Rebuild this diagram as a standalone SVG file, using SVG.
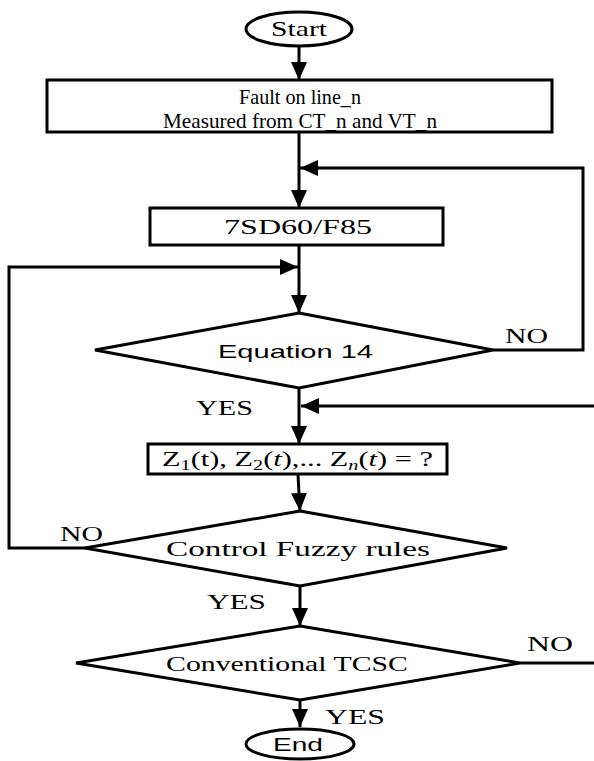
<svg xmlns="http://www.w3.org/2000/svg" width="594" height="761" viewBox="0 0 594 761">
  <style>
    .shape { fill: #fff; stroke: #000; stroke-width: 3; }
    .wire { fill: none; stroke: #000; stroke-width: 3; }
    .serif { font-family: "Liberation Serif", "Times New Roman", serif; font-size: 21px; fill: #000; }
    .sans { font-family: "Liberation Sans", Arial, sans-serif; font-size: 19px; fill: #000; }
  </style>
  <defs>
    <marker id="arrow" markerUnits="userSpaceOnUse" markerWidth="20" markerHeight="20" viewBox="0 0 20 20" refX="18" refY="10" orient="auto">
      <path d="M0,2 L18,10 L0,18 Z" fill="#000"/>
    </marker>
  </defs>
  <rect width="594" height="761" fill="#fff"/>

  <g id="connectors">
    <line class="wire" x1="299" y1="46" x2="299" y2="80" marker-end="url(#arrow)"/>
    <line class="wire" x1="299" y1="132" x2="299" y2="208" marker-end="url(#arrow)"/>
    <polyline class="wire" points="493,350 583,350 583,168 300,168" marker-end="url(#arrow)"/>
    <line class="wire" x1="299" y1="245" x2="299" y2="313" marker-end="url(#arrow)"/>
    <polyline class="wire" points="90,548 9,548 9,267 298,267" marker-end="url(#arrow)"/>
    <line class="wire" x1="299" y1="388" x2="299" y2="444" marker-end="url(#arrow)"/>
    <line class="wire" x1="594" y1="406" x2="301" y2="406" marker-end="url(#arrow)"/>
    <line class="wire" x1="298" y1="475" x2="300" y2="511" marker-end="url(#arrow)"/>
    <line class="wire" x1="300" y1="586" x2="300" y2="626" marker-end="url(#arrow)"/>
    <line class="wire" x1="520" y1="663" x2="594" y2="663"/>
    <line class="wire" x1="300" y1="700" x2="300" y2="727" marker-end="url(#arrow)"/>
    <text class="serif" x="505" y="343" textLength="43" lengthAdjust="spacingAndGlyphs">NO</text>
    <text class="serif" x="196" y="415" textLength="57" lengthAdjust="spacingAndGlyphs">YES</text>
    <text class="serif" x="60" y="541" textLength="43" lengthAdjust="spacingAndGlyphs">NO</text>
    <text class="serif" x="207" y="609" textLength="59" lengthAdjust="spacingAndGlyphs">YES</text>
    <text class="serif" x="527" y="651" textLength="46" lengthAdjust="spacingAndGlyphs">NO</text>
    <text class="serif" x="325" y="724" textLength="60" lengthAdjust="spacingAndGlyphs">YES</text>
  </g>

  <g id="start">
    <ellipse class="shape" cx="299" cy="29" rx="53" ry="17"/>
    <text class="serif" x="271" y="36" textLength="56" lengthAdjust="spacingAndGlyphs">Start</text>
  </g>

  <g id="fault">
    <rect class="shape" x="47" y="80" width="505" height="52"/>
    <text class="serif" x="239" y="104" textLength="122" lengthAdjust="spacingAndGlyphs">Fault on line_n</text>
    <text class="serif" x="163" y="128" textLength="274" lengthAdjust="spacingAndGlyphs">Measured from CT_n and VT_n</text>
  </g>

  <g id="relay">
    <rect class="shape" x="150" y="208" width="293" height="37"/>
    <text class="serif" x="224" y="234" textLength="148" lengthAdjust="spacingAndGlyphs">7SD60/F85</text>
  </g>

  <g id="equation">
    <polygon class="shape" points="299,313 493,350 299,388 95,350"/>
    <text class="sans" x="218" y="358" textLength="155" lengthAdjust="spacingAndGlyphs">Equation 14</text>
  </g>

  <g id="impedance">
    <rect class="shape" x="148" y="444" width="299" height="30"/>
    <text class="serif" x="162" y="466" font-size="20" textLength="271" lengthAdjust="spacingAndGlyphs">Z<tspan font-size="14" dy="4">1</tspan><tspan dy="-4">(t), Z</tspan><tspan font-size="14" dy="4">2</tspan><tspan dy="-4">(</tspan><tspan font-style="italic">t</tspan><tspan>),... Z</tspan><tspan font-size="14" font-style="italic" dy="4">n</tspan><tspan dy="-4">(</tspan><tspan font-style="italic">t</tspan><tspan>) = ?</tspan></text>
  </g>

  <g id="fuzzy">
    <polygon class="shape" points="300,511 507,548 300,586 85,548"/>
    <text class="serif" x="166" y="556" textLength="264" lengthAdjust="spacingAndGlyphs">Control Fuzzy rules</text>
  </g>

  <g id="tcsc">
    <polygon class="shape" points="300,626 520,663 300,700 76,663"/>
    <text class="serif" x="166" y="671" textLength="242" lengthAdjust="spacingAndGlyphs">Conventional TCSC</text>
  </g>

  <g id="end">
    <ellipse class="shape" cx="300" cy="744" rx="54" ry="15"/>
    <text class="sans" x="273" y="751" textLength="50" lengthAdjust="spacingAndGlyphs">End</text>
  </g>
</svg>
